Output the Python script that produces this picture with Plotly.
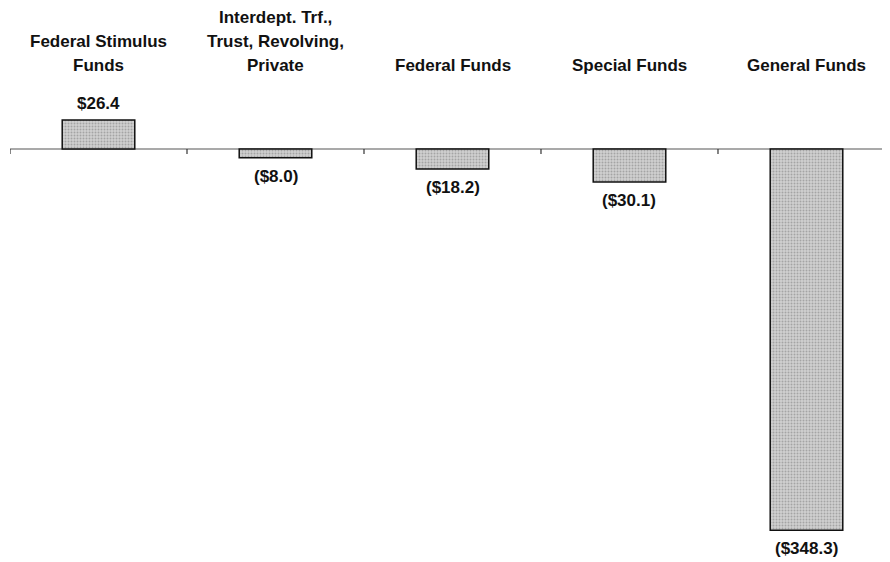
import plotly.graph_objects as go

categories = ["Federal Stimulus<br>Funds", "Interdept. Trf.,<br>Trust, Revolving,<br>Private",
              "Federal Funds", "Special Funds", "General Funds"]
values = [26.4, -8.0, -18.2, -30.1, -348.3]
value_labels = ["$26.4", "($8.0)", "($18.2)", "($30.1)", "($348.3)"]

x = list(range(len(categories)))
FONT = "Liberation Sans, Arial, sans-serif"
FS = 17

fig = go.Figure(go.Bar(
    x=x, y=values, width=0.41,
    marker=dict(color="#c0c0c0",
                line=dict(color="#111111", width=1.5),
                pattern=dict(shape=".", fgcolor="#777777", bgcolor="#d0d0d0", size=3, solidity=0.35)),
    hoverinfo="skip",
))

# value labels
for xi, v, t in zip(x, values, value_labels):
    fig.add_annotation(x=xi, y=v, text="<b>%s</b>" % t, showarrow=False,
                       yanchor="bottom" if v > 0 else "top",
                       yshift=5 if v > 0 else -7,
                       font=dict(family=FONT, size=FS, color="#111"))

# category labels at top, each line placed separately, bottom lines aligned
for xi, c in zip(x, categories):
    lines = c.split("<br>")
    n = len(lines)
    for i, ln in enumerate(lines):
        fig.add_annotation(x=xi, xref="x", y=1, yref="paper", yanchor="middle",
                           yshift=-(57 - (n - 1 - i) * 24), text="<b>%s</b>" % ln,
                           showarrow=False, font=dict(family=FONT, size=FS, color="#111"))

# zero line
fig.add_shape(type="line", xref="paper", x0=0, x1=1, yref="y", y0=0, y1=0,
              line=dict(color="#555555", width=1.2), layer="below")
# tick marks at category boundaries
for b in [i - 0.5 for i in range(len(categories))]:
    fig.add_shape(type="line", xref="x", x0=b, x1=b, yref="y", ysizemode="pixel",
                  yanchor=0, y0=0, y1=-5, line=dict(color="#333333", width=1.2))

fig.update_layout(
    width=890, height=562,
    margin=dict(l=2, r=0, t=0, b=0),
    plot_bgcolor="white", paper_bgcolor="white",
    showlegend=False,
    xaxis=dict(range=[-0.5, 4.517], visible=False),
    yaxis=dict(range=[-384.5, 128.8], visible=False),
)

fig.write_html("out.html")
